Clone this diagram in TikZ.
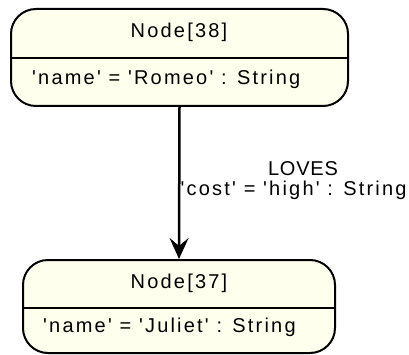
\documentclass[tikz,border=0pt]{standalone}
\usepackage{fontspec}
\setmainfont{Liberation Sans}[Ligatures=TeXOff]
\newfontfamily\labfont{Liberation Sans}[LetterSpace=11,Ligatures=TeXOff]
\newfontfamily\capfont{Liberation Sans}[LetterSpace=4,Ligatures=TeXOff]
\usetikzlibrary{arrows.meta}
\definecolor{boxfill}{HTML}{FFFFEE}
\tikzset{
  entity/.style={draw=black, fill=boxfill, line width=2pt, rounded corners=25pt, inner sep=0pt, minimum width=#1},
  divider/.style={draw=black, line width=2pt},
  txt/.style={inner sep=0pt, font=\labfont\fontsize{20}{23}\selectfont},
  captxt/.style={inner sep=0pt, font=\capfont\fontsize{20}{23}\selectfont},
  rel/.style={draw=black, line width=2.5pt, -{Stealth[length=21pt,width=19pt,inset=8pt]}}
}
\begin{document}
\begin{tikzpicture}[x=1pt,y=-1pt]
\useasboundingbox (0,0) rectangle (409,355);
% boxes
\node[entity=337pt, minimum height=97pt] (n38) at (179.5,57.5) {};
\node[entity=312pt, minimum height=93pt] (n37) at (179,306.5) {};
% dividers
\coordinate (d38l) at (11,58);
\coordinate (d38r) at (348,58);
\coordinate (d37l) at (23,308);
\coordinate (d37r) at (335,308);
\draw[divider] (d38l) -- (d38r);
\draw[divider] (d37l) -- (d37r);
% texts
\node[txt, anchor=base] (t38) at (179,38) {Node[38]};
\node[txt, anchor=base west] (a38) at (32,85) {'name' = 'Romeo' : String};
\node[txt, anchor=base] (t37) at (179,288) {Node[37]};
\node[txt, anchor=base west] (a37) at (43,332) {'name' = 'Juliet' : String};
% relationship
\draw[rel] (n38.south) -- (n37.north);
\node[captxt, anchor=base] (lrel) at (303,176) {LOVES};
\node[txt, anchor=base west] (lcost) at (180.5,196) {'cost' = 'high' : String};
\end{tikzpicture}
\end{document}
